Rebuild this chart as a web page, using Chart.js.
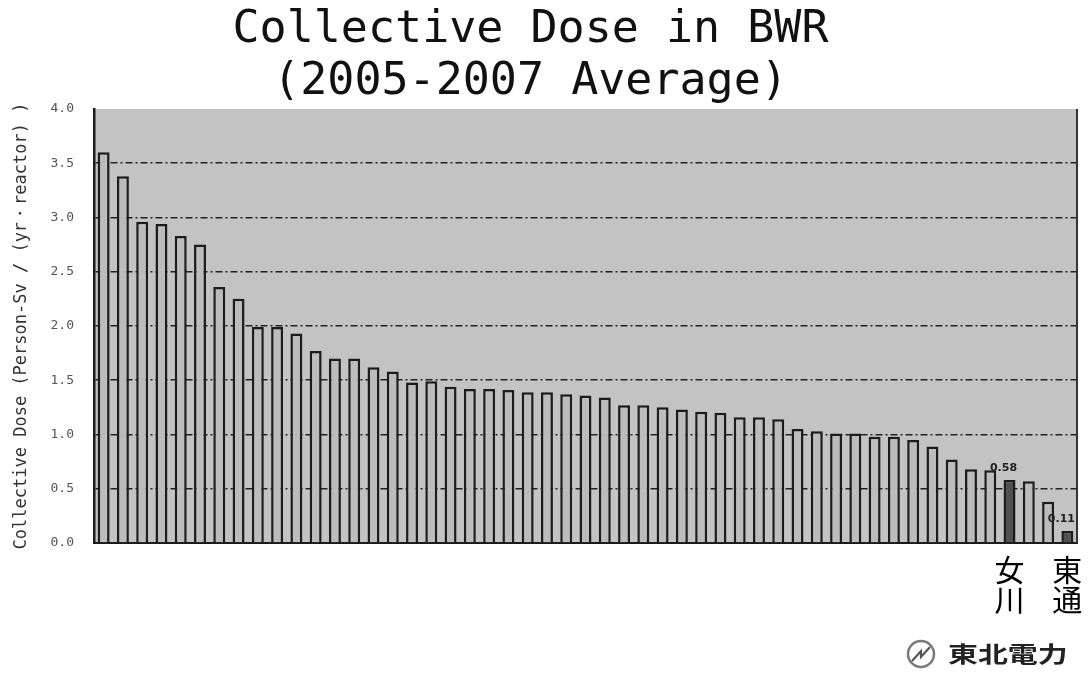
<!DOCTYPE html>
<html>
<head>
<meta charset="utf-8">
<script src="https://cdn.jsdelivr.net/npm/chart.js@4/dist/chart.umd.min.js"></script>
<style>
  html, body { margin: 0; padding: 0; background: #ffffff; }
  #wrap { width: 1088px; height: 675px; position: relative; }
</style>
</head>
<body>
<div id="wrap"><canvas id="c" width="1088" height="675"></canvas></div>
<script>
// ---- Data ----
const titleLines = ['Collective Dose in BWR', '(2005-2007 Average)'];
const yAxisTitle = 'Collective Dose (Person-Sv / (yr・reactor) )';
const categories = [
  '', '', '', '', '', '', '', '', '', '',
  '', '', '', '', '', '', '', '', '', '',
  '', '', '', '', '', '', '', '', '', '',
  '', '', '', '', '', '', '', '', '', '',
  '', '', '', '', '', '', '', '女川', '', '',
  '東通'
];
const doseValues = [
  3.60, 3.38, 2.96, 2.94, 2.83, 2.75, 2.36, 2.25, 1.99, 1.99,
  1.93, 1.77, 1.70, 1.70, 1.62, 1.58, 1.48, 1.49, 1.44, 1.42,
  1.42, 1.41, 1.39, 1.39, 1.37, 1.36, 1.34, 1.27, 1.27, 1.25,
  1.23, 1.21, 1.20, 1.16, 1.16, 1.14, 1.05, 1.03, 1.01, 1.01,
  0.98, 0.98, 0.95, 0.89, 0.77, 0.68, 0.67, 0.58, 0.57, 0.38,
  0.11
];
const yMin = 0.0;
const yMax = 4.0;
const yStep = 0.5;
const valueLabelIndex = [47, 50];
const valueLabelText = ['0.58', '0.11'];
const highlightIndex = [47, 50];
const logoText = '東北電力';

// ---- Styles ----
const plotBg = '#c3c3c3';
const barFill = '#bcbcbc';
const barHighlight = '#505050';
const ink = '#1c1c1c';

const barColors = doseValues.map((v, i) => highlightIndex.includes(i) ? barHighlight : barFill);

const plotDecor = {
  id: 'plotDecor',
  beforeDraw(chart) {
    const { ctx, chartArea: a } = chart;
    ctx.save();
    ctx.fillStyle = '#ffffff';
    ctx.fillRect(0, 0, chart.width, chart.height);
    ctx.fillStyle = plotBg;
    ctx.fillRect(a.left, a.top, a.right - a.left, a.bottom - a.top);
    ctx.restore();
  },
  afterDraw(chart) {
    const { ctx, chartArea: a } = chart;
    const xs = chart.scales.x, ys = chart.scales.y;
    ctx.save();
    // right border
    ctx.strokeStyle = '#333';
    ctx.lineWidth = 2;
    ctx.beginPath();
    ctx.moveTo(a.right, a.top);
    ctx.lineTo(a.right, a.bottom);
    ctx.stroke();
    // value labels
    ctx.fillStyle = '#222';
    ctx.font = 'bold 11px "DejaVu Sans"';
    ctx.textAlign = 'center';
    ctx.textBaseline = 'middle';
    valueLabelIndex.forEach((idx, k) => {
      const x = xs.getPixelForValue(idx) - 6;
      const y = ys.getPixelForValue(doseValues[idx]) - 12;
      ctx.fillText(valueLabelText[k], x, y);
    });
    // logo
    ctx.strokeStyle = '#7a7a7a';
    ctx.lineWidth = 2.5;
    ctx.beginPath();
    ctx.arc(921, 654, 13, 0, Math.PI * 2);
    ctx.stroke();
    ctx.strokeStyle = '#555';
    ctx.lineWidth = 2.2;
    ctx.beginPath();
    ctx.moveTo(912, 661);
    ctx.lineTo(921, 651);
    ctx.lineTo(921, 657);
    ctx.lineTo(930, 647);
    ctx.stroke();
    ctx.fillStyle = '#222';
    ctx.font = 'bold 22px "Noto Sans CJK JP"';
    ctx.textAlign = 'left';
    ctx.textBaseline = 'middle';
    ctx.translate(948, 654);
    ctx.scale(1.36, 1);
    ctx.fillText(logoText, 0, 0);
    ctx.restore();
  }
};

new Chart(document.getElementById('c'), {
  type: 'bar',
  data: {
    labels: categories,
    datasets: [{
      data: doseValues,
      backgroundColor: barColors,
      borderColor: ink,
      borderWidth: 2.5,
      barPercentage: 0.62,
      categoryPercentage: 1.0
    }]
  },
  options: {
    responsive: false,
    devicePixelRatio: 1,
    animation: false,
    layout: { padding: { left: -16, right: 11, top: 0, bottom: 0 } },
    plugins: {
      legend: { display: false },
      tooltip: { enabled: false },
      title: {
        display: true,
        text: titleLines,
        color: '#111',
        font: { family: '"DejaVu Sans Mono", monospace', size: 45, weight: 'normal', lineHeight: 1.155 },
        padding: { top: 4, bottom: 1 }
      }
    },
    scales: {
      x: {
        grid: { display: false },
        border: { display: true, color: ink, width: 2 },
        ticks: {
          autoSkip: false,
          maxRotation: 0,
          minRotation: 0,
          padding: 3,
          color: '#000',
          font: { family: '"Noto Sans CJK JP"', size: 30, lineHeight: 1.02 },
          callback: function (v, i) {
            const l = categories[i];
            return l ? l.split('') : '';
          }
        },
        afterFit(scale) {
          scale.height = 132;
          scale.paddingLeft = 0;
          scale.paddingRight = 0;
        }
      },
      y: {
        min: yMin,
        max: yMax,
        grid: {
          drawTicks: false,
          lineWidth: 1.5,
          color: (c) => (c.tick && (c.tick.value === yMin || c.tick.value === yMax)) ? 'rgba(0,0,0,0)' : '#222'
        },
        border: { display: true, color: ink, width: 2.5, dash: [7, 3, 2, 3] },
        ticks: {
          stepSize: yStep,
          padding: 20,
          color: '#555',
          font: { family: '"DejaVu Sans Mono", monospace', size: 13 },
          callback: (v) => Number(v).toFixed(1)
        },
        title: {
          display: true,
          text: yAxisTitle,
          color: '#333',
          font: { family: '"DejaVu Sans Mono", monospace', size: 17 },
          padding: { top: 27, bottom: 0 }
        },
        afterFit(scale) {
          scale.width = 110;
        }
      }
    }
  },
  plugins: [plotDecor]
});
</script>
</body>
</html>
